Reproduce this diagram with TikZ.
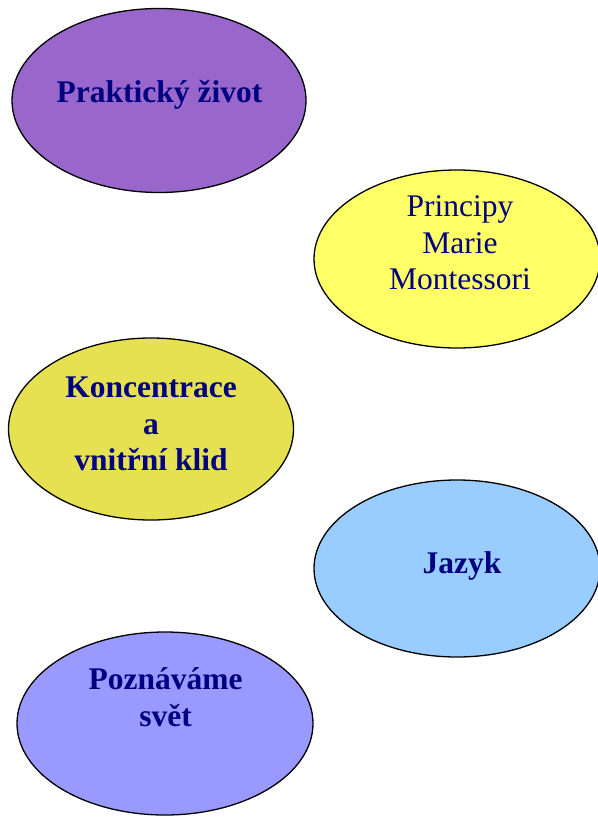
\documentclass[tikz,border=0pt]{standalone}
\usepackage{fontspec}
\setmainfont{Liberation Serif}
\usepackage{xcolor}
\usepackage{tikz}
\usetikzlibrary{shapes.geometric}
\definecolor{ovalline}{RGB}{0,0,0}
\definecolor{ovaltext}{RGB}{0,0,128}
\definecolor{ovalpurple}{RGB}{153,102,204}
\definecolor{ovalyellow}{RGB}{255,255,102}
\definecolor{ovalolive}{RGB}{230,225,80}
\definecolor{ovalblue}{RGB}{153,204,255}
\definecolor{ovalviolet}{RGB}{153,153,255}

\begin{document}
\begin{tikzpicture}[x=1pt, y=-1pt,
    oval/.style={ellipse, draw=ovalline, line width=1.3pt, inner sep=0pt},
    caption/.style={text=ovaltext, align=center, inner sep=0pt,
      font=\fontsize{31.5}{36.5}\selectfont}]
    \useasboundingbox (0,0) rectangle (597,819);
    % ovals
    \node[oval, fill=ovalpurple, minimum width=294, minimum height=184] (prakticky) at (159,100.5) {};
    \node[oval, fill=ovalyellow, minimum width=286, minimum height=178] (principy) at (457,259) {};
    \node[oval, fill=ovalolive, minimum width=285, minimum height=182] (koncentrace) at (151,429) {};
    \node[oval, fill=ovalblue, minimum width=286, minimum height=177] (jazyk) at (457,568.5) {};
    \node[oval, fill=ovalviolet, minimum width=296, minimum height=183] (poznavame) at (165,723.5) {};
    % texts
    \node[caption, font=\fontsize{31.5}{36.5}\selectfont\bfseries] (praktickytext) at (159.5,94.3) {Praktický život};
    \node[caption] (principytext) at (460,243) {Principy\\Marie\\Montessori};
    \node[caption, font=\fontsize{31.5}{36.5}\selectfont\bfseries] (koncentracetext) at (151,424) {Koncentrace\\a\\vnitřní klid};
    \node[caption, font=\fontsize{31.5}{36.5}\selectfont\bfseries] (jazyktext) at (462,565.8) {Jazyk};
    \node[caption, font=\fontsize{31.5}{36.5}\selectfont\bfseries] (poznavametext) at (165.5,697) {Poznáváme\\svět};
  \end{tikzpicture}
\end{document}
